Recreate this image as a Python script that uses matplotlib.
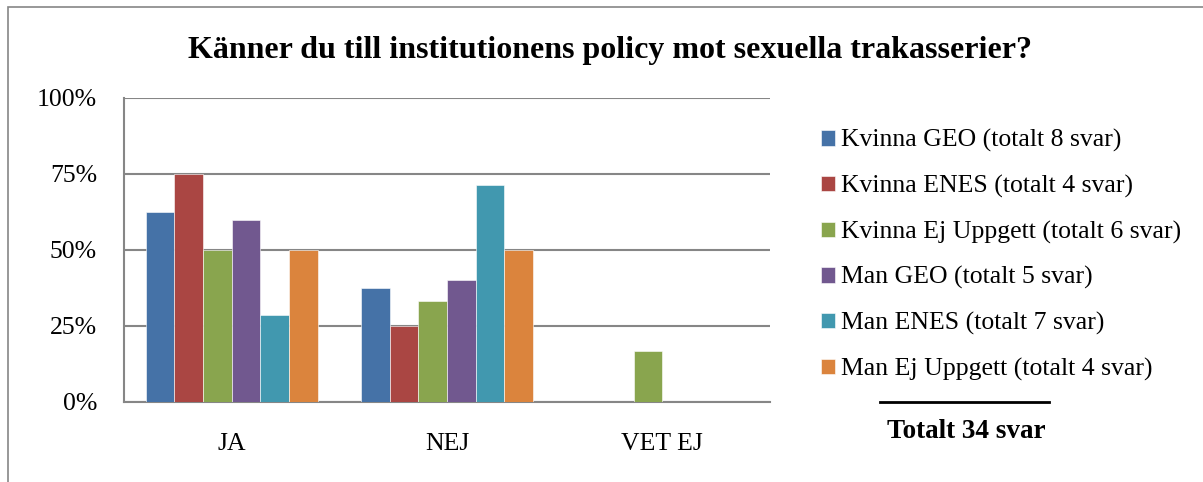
import numpy as np
import matplotlib.pyplot as plt
from matplotlib.patches import Rectangle

plt.rcParams['font.family'] = ['Liberation Serif', 'DejaVu Serif']

# data: share of answers per group
categories = ['JA', 'NEJ', 'VET EJ']
series = ['Kvinna GEO (totalt 8 svar)', 'Kvinna ENES (totalt 4 svar)',
          'Kvinna Ej Uppgett (totalt 6 svar)', 'Man GEO (totalt 5 svar)',
          'Man ENES (totalt 7 svar)', 'Man Ej Uppgett (totalt 4 svar)']
kvinna_geo = [5/8, 3/8, 0]
kvinna_enes = [3/4, 1/4, 0]
kvinna_ej = [3/6, 2/6, 1/6]
man_geo = [3/5, 2/5, 0]
man_enes = [2/7, 5/7, 0]
man_ej = [2/4, 2/4, 0]
values = [kvinna_geo, kvinna_enes, kvinna_ej, man_geo, man_enes, man_ej]
colors = ['#4572A7', '#AA4643', '#89A54E', '#71588F', '#4198AF', '#DB843D']
yticks = [0, 0.25, 0.5, 0.75, 1.0]
ytick_labels = ['0%', '25%', '50%', '75%', '100%']

fig = plt.figure(figsize=(12.03, 4.82), dpi=100)
ax = fig.add_axes([124/1203, 1 - 402/482, (770 - 124)/1203, (402 - 98)/482])

x = np.arange(len(categories))
w = 1 / 7.5
for i, (vals, c) in enumerate(zip(values, colors)):
    ax.bar(x + (i - 2.5) * w, vals, width=w, color=c, edgecolor='white',
           linewidth=0.4, label=series[i], zorder=3)

ax.set_xlim(-0.5, 2.5)
ax.set_ylim(0, 1)
ax.set_yticks(yticks)
ax.set_yticklabels(ytick_labels, fontsize=18.5)
ax.set_xticks(x)
ax.set_xticklabels(categories, fontsize=18.5)
ax.tick_params(axis='both', length=0)
ax.tick_params(axis='y', pad=19.5)
ax.tick_params(axis='x', pad=22)
ax.yaxis.grid(True, color='#868686', linewidth=1.5, zorder=0)
for s in ['top', 'right']:
    ax.spines[s].set_visible(False)
for s in ['left', 'bottom']:
    ax.spines[s].set_color('#868686')
    ax.spines[s].set_linewidth(1.5)

fig.text(610/1203, 1 - 58/482, 'Känner du till institutionens policy mot sexuella trakasserier?',
         ha='center', va='baseline', fontsize=23, fontweight='bold')

ax.legend(loc='upper left', bbox_to_anchor=(811/1203, 1 - 119/482),
          bbox_transform=fig.transFigure, frameon=False, fontsize=18.5,
          handlelength=0.55, handleheight=0.55, handletextpad=0.23,
          labelspacing=0.88, borderaxespad=0)

fig.add_artist(plt.Line2D([880/1203, 1049/1203], [1 - 402/482, 1 - 402/482],
                          color='black', linewidth=2))
fig.text(966/1203, 1 - 432/482, 'Totalt 34 svar', ha='center', va='center',
         fontsize=19.5, fontweight='bold')

# outer chart border
fig.add_artist(Rectangle((8/1203, -0.1), 1.1, 1 - 7/482 + 0.1, transform=fig.transFigure,
                         fill=False, edgecolor='#868686', linewidth=1.2))

fig.savefig('out.png', dpi=100)
